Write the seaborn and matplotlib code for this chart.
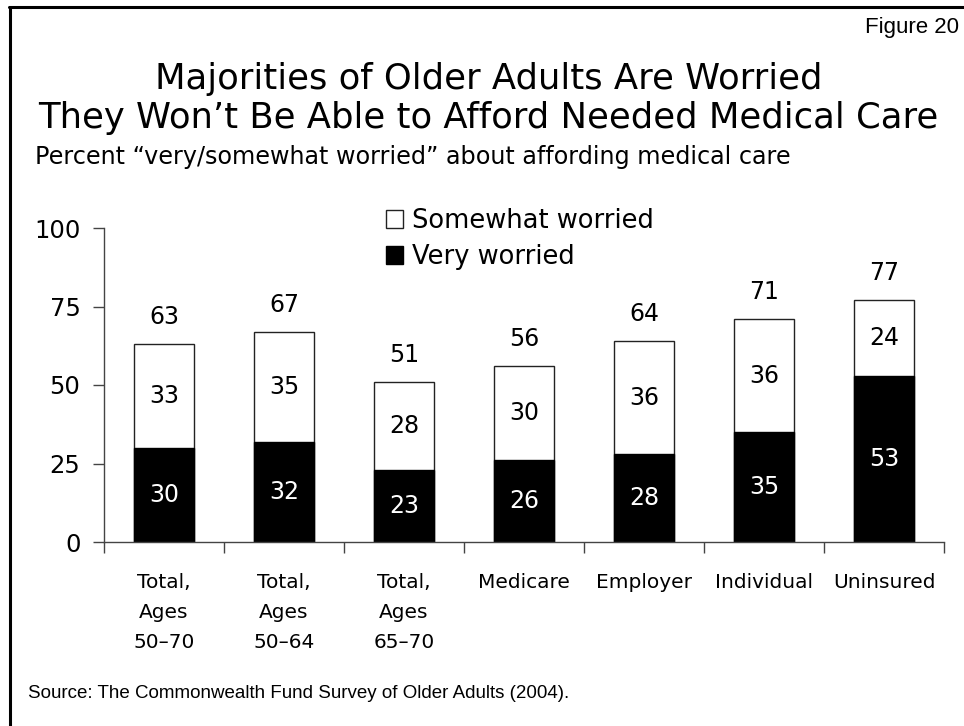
import matplotlib
matplotlib.use("Agg")
import matplotlib.pyplot as plt
import seaborn as sns
import pandas as pd
from matplotlib.patches import Patch
from matplotlib.lines import Line2D
from matplotlib.ticker import FixedLocator

# ---- data ----
categories = ["Total,\nAges\n50\u201370", "Total,\nAges\n50\u201364", "Total,\nAges\n65\u201370",
              "Medicare", "Employer", "Individual", "Uninsured"]
very_worried = [30, 32, 23, 26, 28, 35, 53]
somewhat_worried = [33, 35, 28, 30, 36, 36, 24]
totals = [63, 67, 51, 56, 64, 71, 77]
y_ticks = [0, 25, 50, 75, 100]

title_lines = ["Majorities of Older Adults Are Worried",
               "They Won\u2019t Be Able to Afford Needed Medical Care"]
subtitle = "Percent \u201cvery/somewhat worried\u201d about affording medical care"
source = "Source: The Commonwealth Fund Survey of Older Adults (2004)."
figure_label = "Figure 20"
legend_labels = ["Somewhat worried", "Very worried"]

sns.set_theme(style="white")
plt.rcParams["font.family"] = ["DejaVu Sans"]
plt.rcParams["text.color"] = "black"
plt.rcParams["xtick.color"] = "black"
plt.rcParams["ytick.color"] = "black"
plt.rcParams["axes.labelcolor"] = "black"

W, H = 964, 726
fig = plt.figure(figsize=(W / 100, H / 100), dpi=100)
fig.patch.set_facecolor("white")

ax = fig.add_axes([104 / W, 1 - 542 / H, 840 / W, 314 / H])

df = pd.DataFrame({
    "cat": categories,
    "very": very_worried,
    "somewhat": somewhat_worried,
})
df["top"] = df["very"] + df["somewhat"]

sns.barplot(data=df, x="cat", y="top", color="white", edgecolor="#222222",
            linewidth=1.0, width=0.5, saturation=1, ax=ax)
sns.barplot(data=df, x="cat", y="very", color="black", edgecolor="black",
            linewidth=1.0, width=0.5, saturation=1, ax=ax)

ax.set_xlim(-0.5, len(categories) - 0.5)
ax.set_ylim(0, 100)
ax.set_xlabel("")
ax.set_ylabel("")
ax.set_yticks(y_ticks)
ax.set_yticklabels([str(v) for v in y_ticks])

for s in ["top", "right"]:
    ax.spines[s].set_visible(False)
for s in ["left", "bottom"]:
    ax.spines[s].set_color("#444444")
    ax.spines[s].set_linewidth(1.0)

ax.tick_params(axis="y", which="major", direction="out", length=8, width=1,
               color="#444444", pad=9, labelsize=17.5, left=True, labelcolor="black")
ax.tick_params(axis="x", which="major", length=0, pad=22, labelsize=14.5, labelcolor="black")
ax.xaxis.set_minor_locator(FixedLocator([i - 0.5 for i in range(len(categories) + 1)]))
ax.tick_params(axis="x", which="minor", direction="out", length=8, width=1,
               color="#444444", bottom=True)
for lbl in ax.get_xticklabels():
    lbl.set_linespacing(1.75)
    lbl.set_va("top")

for i in range(len(categories)):
    v = very_worried[i]
    s = somewhat_worried[i]
    ax.text(i, v / 2, str(v), ha="center", va="center", color="white", fontsize=17)
    ax.text(i, v + s / 2, str(s), ha="center", va="center", color="black", fontsize=17)
    ax.annotate(str(totals[i]), xy=(i, v + s), xytext=(0, 19.5), textcoords="offset points",
                ha="center", va="center", color="black", fontsize=17)

# legend
handles = [Patch(facecolor="white", edgecolor="#222222", linewidth=1.0),
           Patch(facecolor="black", edgecolor="black", linewidth=1.0)]
fig.legend(handles, legend_labels, loc="center left",
           bbox_to_anchor=(386 / W, 1 - 239 / H), frameon=False,
           fontsize=18.5, handlelength=0.66, handleheight=0.66,
           handletextpad=0.35, labelspacing=0.38, borderpad=0, borderaxespad=0)

# titles and texts
fig.text(489 / W, 1 - 79 / H, title_lines[0], ha="center", va="center", fontsize=25.5)
fig.text(488 / W, 1 - 118 / H, title_lines[1], ha="center", va="center", fontsize=25.5)
fig.text(35 / W, 1 - 157 / H, subtitle, ha="left", va="center", fontsize=17.2)
fig.text(959 / W, 1 - 28 / H, figure_label, ha="right", va="center", fontsize=16,
         family="Liberation Sans")
fig.text(28 / W, 1 - 694 / H, source, ha="left", va="center", fontsize=13.5,
         family="Liberation Sans")

# frame (left and top)
fig.add_artist(Line2D([10 / W, 10 / W], [0, 1 - 6.5 / H], color="black", lw=2.2,
                      transform=fig.transFigure))
fig.add_artist(Line2D([9 / W, 1], [1 - 6.5 / H, 1 - 6.5 / H], color="black", lw=2.2,
                      transform=fig.transFigure))

fig.savefig("out.png", dpi=100, facecolor="white")
